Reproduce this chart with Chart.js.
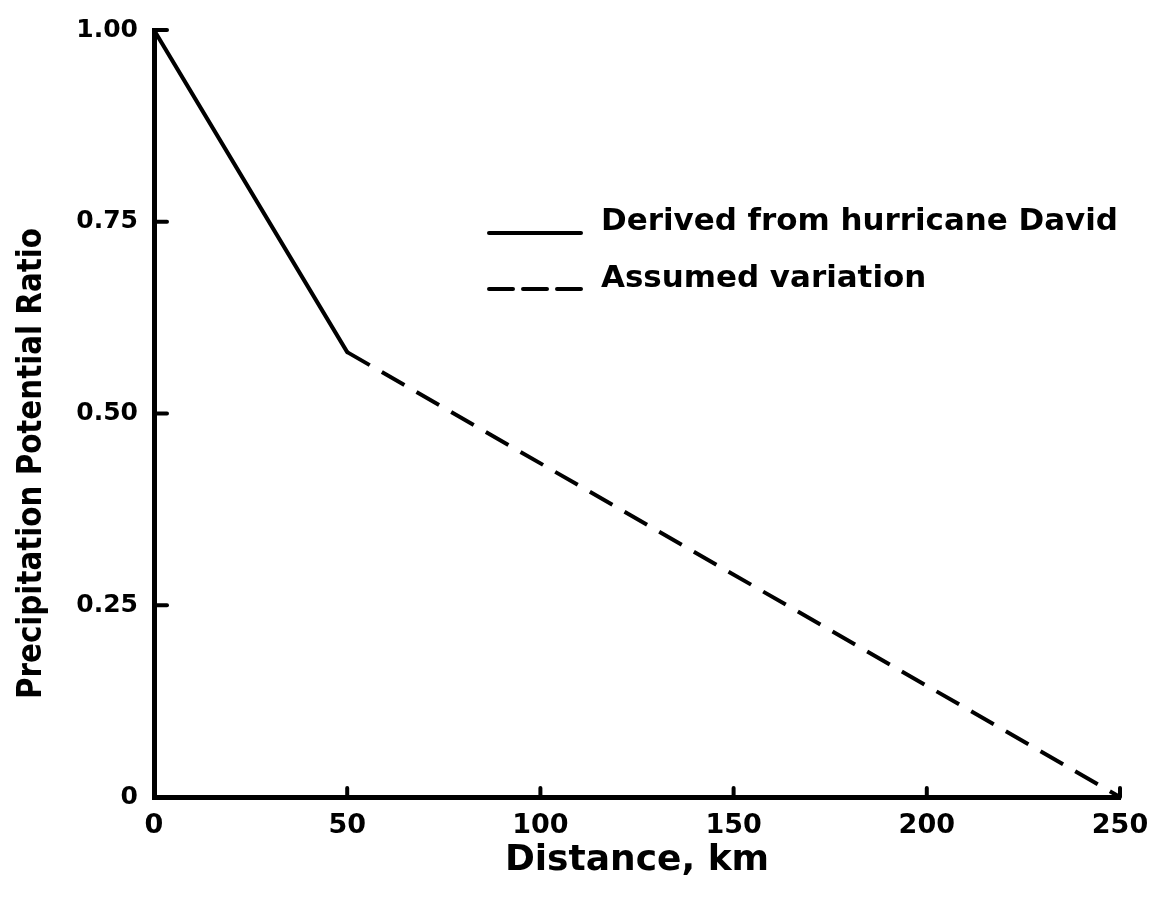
<!DOCTYPE html>
<html>
<head>
<meta charset="utf-8">
<script src="https://cdn.jsdelivr.net/npm/chart.js@4.4.0/dist/chart.umd.min.js"></script>
<style>
  html, body { margin: 0; padding: 0; background: #fff; }
  #wrap { width: 1165px; height: 898px; }
</style>
</head>
<body>
<div id="wrap"><canvas id="canvas"></canvas></div>
<script>
var derivedKm = [0, 50];
var derivedRatio = [1.00, 0.58];
var assumedKm = [50, 250];
var assumedRatio = [0.58, 0];
var xTicks = [0, 50, 100, 150, 200, 250];
var yTicks = [0, 0.25, 0.50, 0.75, 1.00];
var yTickLabels = ['0', '0.25', '0.50', '0.75', '1.00'];
var seriesNames = ['Derived from hurricane David', 'Assumed variation'];
var yTitle = 'Precipitation Potential Ratio';

var FONT = '"DejaVu Sans", sans-serif';

function points(xs, ys) {
  return xs.map(function(x, i) { return { x: x, y: ys[i] }; });
}

// inward tick marks on both axes
var innerTicks = {
  id: 'innerTicks',
  afterDraw: function(chart) {
    var ctx = chart.ctx, xs = chart.scales.x, ys = chart.scales.y;
    var len = 9;
    ctx.save();
    ctx.strokeStyle = '#000';
    ctx.lineWidth = 4;
    ctx.lineCap = 'round';
    xTicks.forEach(function(v) {
      if (v === 0) return;
      var px = xs.getPixelForValue(v);
      ctx.beginPath();
      ctx.moveTo(px, ys.bottom);
      ctx.lineTo(px, ys.bottom - len);
      ctx.stroke();
    });
    yTicks.forEach(function(v) {
      if (v === 0) return;
      var py = ys.getPixelForValue(v);
      ctx.beginPath();
      ctx.moveTo(xs.left, py);
      ctx.lineTo(xs.left + len + 4, py);
      ctx.stroke();
    });
    ctx.restore();
  }
};

// draw text fitted to a given length
function fittedText(ctx, text, x, y, width) {
  var w = ctx.measureText(text).width;
  ctx.save();
  ctx.translate(x, y);
  ctx.scale(width / w, 1);
  ctx.fillText(text, 0, 0);
  ctx.restore();
}

// y-axis title, rotated, placed a bit below the axis midpoint
var sideTitle = {
  id: 'sideTitle',
  afterDraw: function(chart) {
    var ctx = chart.ctx;
    ctx.save();
    ctx.fillStyle = '#000';
    ctx.font = 'bold 33px ' + FONT;
    ctx.textBaseline = 'alphabetic';
    ctx.translate(41, 699);
    ctx.rotate(-Math.PI / 2);
    fittedText(ctx, yTitle, 0, 0, 471);
    ctx.restore();
  }
};

// legend drawn inside the plot area
var insideLegend = {
  id: 'insideLegend',
  afterDraw: function(chart) {
    var ctx = chart.ctx;
    var x0 = 487, x1 = 583, tx = 601;
    var baselines = [230, 287];
    var lineY = [233, 289];
    ctx.save();
    ctx.font = 'bold 31px ' + FONT;
    ctx.fillStyle = '#000';
    ctx.textBaseline = 'alphabetic';
    var k = 517 / ctx.measureText(seriesNames[0]).width;
    chart.data.datasets.forEach(function(ds, i) {
      ctx.strokeStyle = '#000';
      ctx.lineWidth = 4;
      ctx.lineCap = 'round';
      ctx.setLineDash(ds.borderDash ? [24, 10] : []);
      ctx.beginPath();
      ctx.moveTo(x0 + 2, lineY[i]);
      ctx.lineTo(x1 - 2, lineY[i]);
      ctx.stroke();
      ctx.setLineDash([]);
      fittedText(ctx, ds.label, tx, baselines[i], ctx.measureText(ds.label).width * k);
    });
    ctx.restore();
  }
};

window.onload = function() {
  var ctx = document.getElementById('canvas').getContext('2d');
  new Chart(ctx, {
    type: 'scatter',
    data: {
      datasets: [{
        label: seriesNames[0],
        data: points(derivedKm, derivedRatio),
        showLine: true,
        borderColor: '#000',
        borderWidth: 4,
        pointRadius: 0,
        borderCapStyle: 'round'
      }, {
        label: seriesNames[1],
        data: points(assumedKm, assumedRatio),
        showLine: true,
        borderColor: '#000',
        borderWidth: 4,
        borderDash: [26, 14],
        pointRadius: 0
      }]
    },
    options: {
      responsive: true,
      maintainAspectRatio: false,
      animation: false,
      layout: { padding: { left: 0, right: 45, top: 30, bottom: 16 } },
      plugins: {
        legend: { display: false },
        tooltip: { enabled: false }
      },
      scales: {
        x: {
          type: 'linear',
          min: 0,
          max: 250,
          afterFit: function(s) { s.height = 85; },
          afterBuildTicks: function(s) { s.ticks = xTicks.map(function(v) { return { value: v }; }); },
          border: { display: true, color: '#000', width: 5 },
          grid: { display: false },
          ticks: {
            color: '#000',
            padding: 5,
            font: { family: FONT, size: 27, weight: 'bold' }
          },
          title: {
            display: true,
            text: 'Distance, km',
            color: '#000',
            padding: { top: 4, bottom: 0 },
            font: { family: FONT, size: 36, weight: 'bold' }
          }
        },
        y: {
          type: 'linear',
          min: 0,
          max: 1,
          afterFit: function(s) { s.width = 154; },
          afterBuildTicks: function(s) { s.ticks = yTicks.map(function(v) { return { value: v }; }); },
          border: { display: true, color: '#000', width: 5 },
          grid: { display: false },
          ticks: {
            color: '#000',
            padding: 8,
            font: { family: FONT, size: 25, weight: 'bold' },
            callback: function(v) { return yTickLabels[yTicks.indexOf(v)]; }
          },
          title: { display: false }
        }
      }
    },
    plugins: [innerTicks, sideTitle, insideLegend]
  });
};
</script>
</body>
</html>
